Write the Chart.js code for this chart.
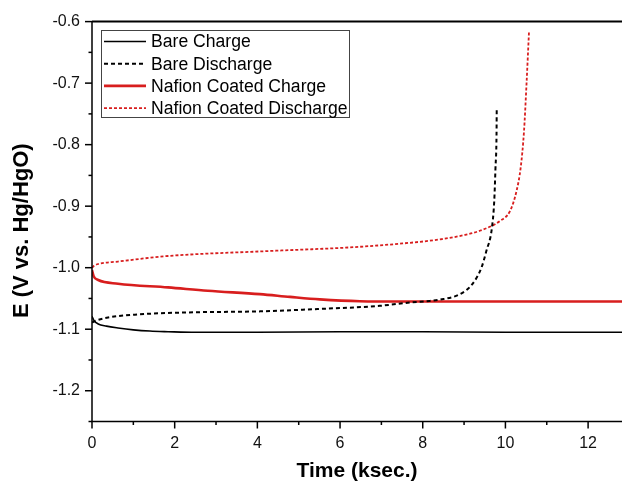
<!DOCTYPE html>
<html>
<head>
<meta charset="utf-8">
<script src="https://cdn.jsdelivr.net/npm/chart.js@4.4.1/dist/chart.umd.min.js"></script>
<style>
    html, body { margin: 0; padding: 0; background: #fff; }
    #wrap { width: 622px; height: 482px; }
</style>
</head>
<body>
<div id="wrap"><canvas id="echemChart"></canvas></div>
<script>
// values (t in ksec, E in V vs. Hg/HgO)
const bareChargeT = [0, 0.05, 0.15, 0.35, 0.63, 1.0, 1.4, 1.84, 2.5, 4, 6, 8, 10, 12.82];
const bareChargeE = [-1.079, -1.086, -1.0915, -1.095, -1.098, -1.101, -1.103, -1.104, -1.105, -1.105, -1.104, -1.104, -1.105, -1.105];

const bareDischargeT = [0, 0.1, 0.39, 1.11, 2.32, 4.06, 5.51, 6.96, 7.69, 8.17, 8.42, 8.9, 9.2, 9.42, 9.54, 9.67, 9.73, 9.76, 9.785, 9.79];
const bareDischargeE = [-1.089, -1.086, -1.081, -1.076, -1.0727, -1.071, -1.067, -1.062, -1.0565, -1.054, -1.052, -1.043, -1.0267, -1.0, -0.9726, -0.937, -0.891, -0.837, -0.783, -0.74];

const nafionChargeT = [0, 0.04, 0.15, 0.63, 1.84, 2.8, 4.06, 4.79, 5.51, 6.48, 7.5, 8.42, 10, 12.82];
const nafionChargeE = [-1.004, -1.014, -1.020, -1.026, -1.032, -1.0375, -1.043, -1.0475, -1.0515, -1.0545, -1.055, -1.055, -1.055, -1.055];

const nafionDischargeT = [0, 0.05, 0.15, 0.63, 1.84, 4.26, 6.24, 7.45, 8.42, 9.0, 9.38, 9.87, 10.11, 10.27, 10.37, 10.45, 10.51, 10.57];
const nafionDischargeE = [-1.0, -0.997, -0.994, -0.990, -0.981, -0.973, -0.967, -0.961, -0.954, -0.947, -0.940, -0.924, -0.908, -0.875, -0.837, -0.778, -0.702, -0.617];

const seriesLabels = ['Bare Charge', 'Bare Discharge', 'Nafion Coated Charge', 'Nafion Coated Discharge'];

const RED = '#d81e1e';

function toPoints(ts, es) {
    return ts.map((t, i) => ({ x: t, y: es[i] }));
}

const isMajorY = v => Math.round(v * 100) % 10 === 0;
const isMajorX = v => Math.round(v) % 2 === 0;

// axis lines, tick marks and the boxed legend
const frameAndLegend = {
    id: 'frameAndLegend',
    afterDraw(chart) {
        const ctx = chart.ctx;
        const area = chart.chartArea;
        const xs = chart.scales.x;
        const ys = chart.scales.y;
        ctx.save();
        ctx.strokeStyle = '#000';
        ctx.setLineDash([]);

        ctx.lineWidth = 2;
        ctx.beginPath();
        ctx.moveTo(area.left, area.top);
        ctx.lineTo(area.right, area.top);
        ctx.stroke();

        ctx.lineWidth = 1.5;
        ctx.beginPath();
        ctx.moveTo(area.left, area.top);
        ctx.lineTo(area.left, area.bottom);
        ctx.lineTo(area.right, area.bottom);
        ctx.stroke();

        ctx.lineWidth = 1.5;
        xs.ticks.forEach(tick => {
            const px = xs.getPixelForValue(tick.value);
            const len = isMajorX(tick.value) ? 7 : 3.5;
            ctx.beginPath();
            ctx.moveTo(px, area.bottom);
            ctx.lineTo(px, area.bottom + len);
            ctx.stroke();
        });
        ys.ticks.forEach(tick => {
            const py = ys.getPixelForValue(tick.value);
            const len = isMajorY(tick.value) ? 7 : 3.5;
            ctx.beginPath();
            ctx.moveTo(area.left, py);
            ctx.lineTo(area.left - len, py);
            ctx.stroke();
        });

        // legend
        const boxX = 101.5, boxY = 30.5, boxW = 248, boxH = 87;
        ctx.fillStyle = '#fff';
        ctx.fillRect(boxX, boxY, boxW, boxH);
        ctx.strokeStyle = '#444';
        ctx.lineWidth = 1;
        ctx.strokeRect(boxX, boxY, boxW, boxH);

        ctx.font = '17.6px "Liberation Sans", Arial, sans-serif';
        ctx.textBaseline = 'middle';
        ctx.textAlign = 'left';
        chart.data.datasets.forEach((ds, i) => {
            const cy = 41.5 + i * 22.2;
            ctx.strokeStyle = ds.borderColor;
            ctx.lineWidth = ds.borderWidth;
            ctx.setLineDash(ds.borderDash || []);
            ctx.beginPath();
            ctx.moveTo(104, cy);
            ctx.lineTo(146, cy);
            ctx.stroke();
            ctx.setLineDash([]);
            ctx.fillStyle = '#000';
            ctx.fillText(ds.label, 151, cy + 1);
        });
        ctx.restore();
    }
};

const ctxEchem = document.getElementById('echemChart').getContext('2d');
new Chart(ctxEchem, {
    type: 'line',
    data: {
        datasets: [
            {
                label: seriesLabels[0],
                data: toPoints(bareChargeT, bareChargeE),
                borderColor: '#000',
                borderWidth: 1.6
            },
            {
                label: seriesLabels[1],
                data: toPoints(bareDischargeT, bareDischargeE),
                borderColor: '#000',
                borderWidth: 2,
                borderDash: [4, 3]
            },
            {
                label: seriesLabels[2],
                data: toPoints(nafionChargeT, nafionChargeE),
                borderColor: RED,
                borderWidth: 2.6
            },
            {
                label: seriesLabels[3],
                data: toPoints(nafionDischargeT, nafionDischargeE),
                borderColor: RED,
                borderWidth: 1.8,
                borderDash: [3, 2]
            }
        ]
    },
    options: {
        responsive: true,
        maintainAspectRatio: false,
        animation: false,
        parsing: false,
        layout: {
            padding: { top: 20, right: 0, bottom: 0, left: 0 }
        },
        elements: {
            point: { radius: 0 },
            line: { cubicInterpolationMode: 'monotone', fill: false }
        },
        scales: {
            x: {
                type: 'linear',
                min: 0,
                max: 12.82,
                afterFit: scale => { scale.height = 60.5; },
                border: { display: false },
                grid: { display: false, drawTicks: false },
                ticks: {
                    stepSize: 1,
                    includeBounds: false,
                    autoSkip: false,
                    maxRotation: 0,
                    padding: 12,
                    color: '#111',
                    font: { family: '"Liberation Sans", Arial, sans-serif', size: 16 },
                    callback: value => (isMajorX(value) ? String(Math.round(value)) : '')
                },
                title: {
                    display: true,
                    text: 'Time (ksec.)',
                    color: '#000',
                    padding: { top: 0, bottom: 0 },
                    font: { family: '"Liberation Sans", Arial, sans-serif', size: 21, weight: 'bold', lineHeight: 1 }
                }
            },
            y: {
                type: 'linear',
                min: -1.25,
                max: -0.6,
                afterFit: scale => { scale.width = 92; },
                border: { display: false },
                grid: { display: false, drawTicks: false },
                ticks: {
                    stepSize: 0.05,
                    includeBounds: false,
                    autoSkip: false,
                    padding: 12,
                    color: '#111',
                    font: { family: '"Liberation Sans", Arial, sans-serif', size: 16 },
                    callback: value => (isMajorY(value) ? value.toFixed(1) : '')
                },
                title: {
                    display: true,
                    text: 'E (V vs. Hg/HgO)\u00a0\u00a0\u00a0',
                    color: '#000',
                    padding: { top: 9, bottom: 0 },
                    font: { family: '"Liberation Sans", Arial, sans-serif', size: 22, weight: 'bold' }
                }
            }
        },
        plugins: {
            legend: { display: false },
            tooltip: { enabled: false }
        }
    },
    plugins: [frameAndLegend]
});
</script>
</body>
</html>
